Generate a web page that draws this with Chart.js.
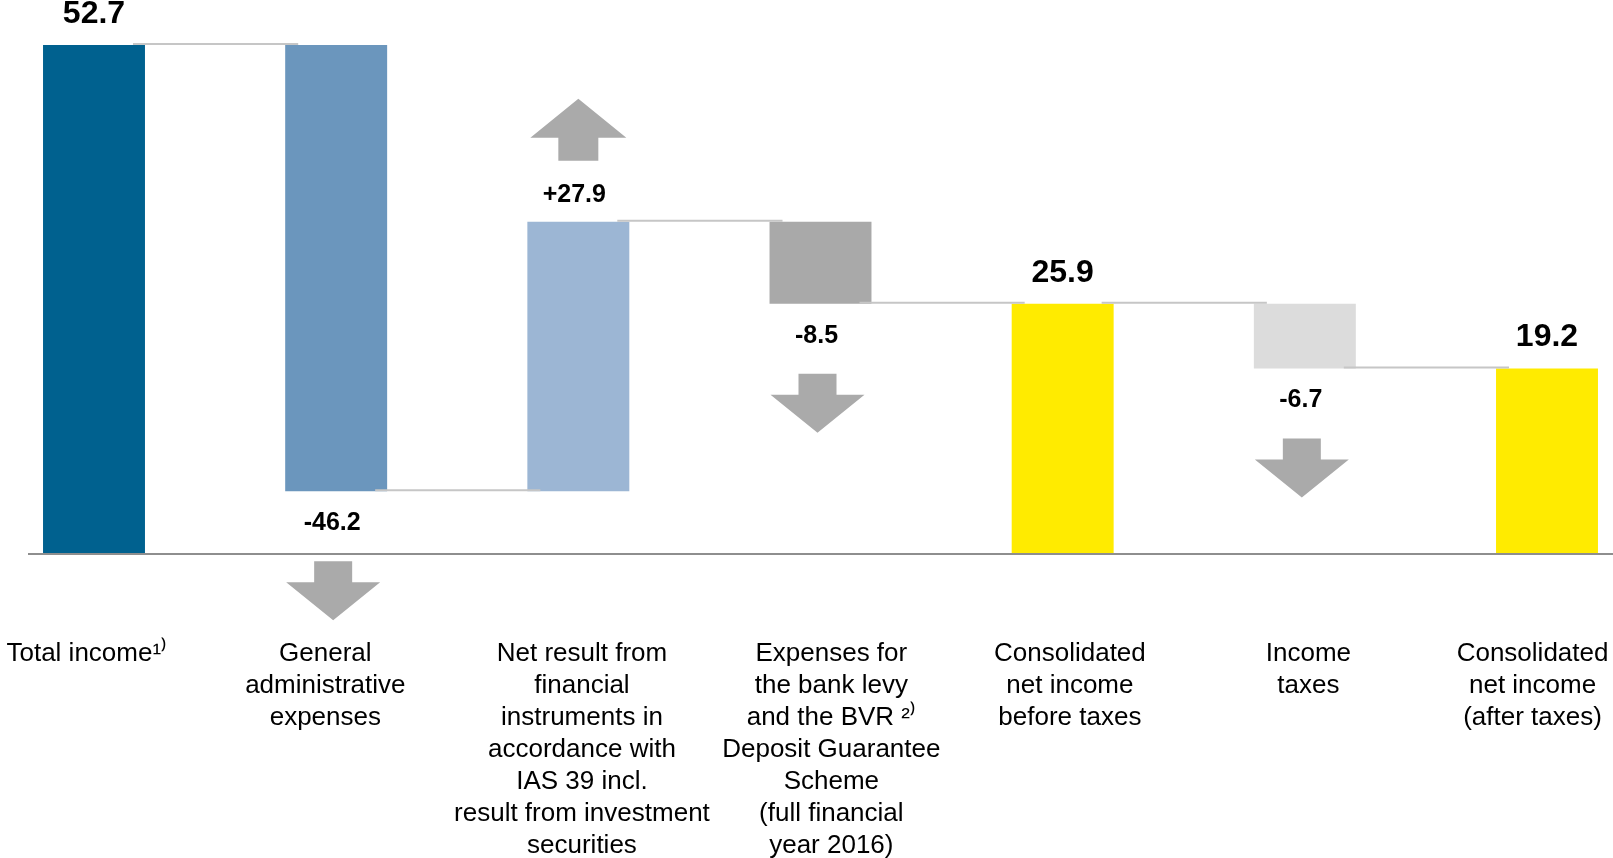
<!DOCTYPE html>
<html>
<head>
<meta charset="utf-8">
<script src="https://cdn.jsdelivr.net/npm/chart.js@4/dist/chart.umd.min.js"></script>
<style>
  html, body { margin: 0; padding: 0; background: #ffffff; }
  #wrap { width: 1613px; height: 858px; position: relative; }
</style>
</head>
<body>
<div id="wrap"><canvas id="c"></canvas></div>
<script>
// ---- data ----
const categories = [
  ["Total income\u00B9\u207E"],
  ["General", "administrative", "expenses"],
  ["Net result from", "financial", "instruments in", "accordance with", "IAS 39 incl.", "result from investment", "securities"],
  ["Expenses for", "the bank levy", "and the BVR \u00B2\u207E", "Deposit Guarantee", "Scheme", "(full financial", "year 2016)"],
  ["Consolidated", "net income", "before taxes"],
  ["Income", "taxes"],
  ["Consolidated", "net income", "(after taxes)"]
];
const values = [52.7, -46.2, 27.9, -8.5, 25.9, -6.7, 19.2];
const isTotal = [true, false, false, false, true, false, true];
const valueLabels = ["52.7", "-46.2", "+27.9", "-8.5", "25.9", "-6.7", "19.2"];

// ---- layout constants (not data) ----
const FONT = '"Liberation Sans", Arial, Helvetica, sans-serif';
const labelNudgePx = [-9, -10, 3, 11, 8, 2, -16]; // horizontal nudge of category labels
const SPACE_SHIFT = 3.61; // half of a space width at 26px

// floating ranges for the waterfall
const ranges = [];
const levels = [];
let running = 0;
values.forEach((v, i) => {
  if (isTotal[i]) { ranges.push([0, v]); running = v; }
  else { ranges.push([running, running + v]); running += v; }
  levels.push(running);
});

function nudgeLines(lines, px) {
  const n = Math.round(Math.abs(px) / SPACE_SHIFT);
  const pad = ' '.repeat(n);
  return lines.map(l => px >= 0 ? pad + l : l + pad);
}

const waterfallDecor = {
  id: 'waterfallDecor',
  afterDatasetsDraw(chart) {
    const ctx = chart.ctx;
    const ys = chart.scales.y;
    const meta = chart.getDatasetMeta(0);
    ctx.save();

    // baseline
    const y0 = ys.getPixelForValue(0);
    ctx.strokeStyle = '#8e8e8e';
    ctx.lineWidth = 2;
    ctx.beginPath();
    ctx.moveTo(28, y0);
    ctx.lineTo(chart.width, y0);
    ctx.stroke();

    // connector lines
    ctx.strokeStyle = '#c6c6c6';
    ctx.lineWidth = 2;
    for (let i = 0; i < values.length - 1; i++) {
      const b = meta.data[i], n = meta.data[i + 1];
      const y = ys.getPixelForValue(levels[i]) - 1;
      ctx.beginPath();
      ctx.moveTo(b.x + b.width / 2 - 12, y);
      ctx.lineTo(n.x - n.width / 2 + 13, y);
      ctx.stroke();
    }

    // value labels and arrows
    ctx.textAlign = 'center';
    ctx.textBaseline = 'middle';
    for (let i = 0; i < values.length; i++) {
      const el = meta.data[i];
      const top = Math.min(el.y, el.base);
      const bottom = Math.max(el.y, el.base);
      const cx = el.x;
      if (isTotal[i]) {
        ctx.fillStyle = '#000000';
        ctx.font = 'bold 32px ' + FONT;
        ctx.fillText(valueLabels[i], cx, top - 31);
      } else if (values[i] > 0) {
        ctx.fillStyle = '#000000';
        ctx.font = 'bold 25px ' + FONT;
        ctx.fillText(valueLabels[i], cx - 4, top - 27);
        // up arrow
        ctx.fillStyle = '#aaaaaa';
        const sb = top - 61, hb = top - 84, ap = top - 123;
        ctx.beginPath();
        ctx.moveTo(cx - 20, sb);
        ctx.lineTo(cx - 20, hb);
        ctx.lineTo(cx - 48, hb);
        ctx.lineTo(cx, ap);
        ctx.lineTo(cx + 48, hb);
        ctx.lineTo(cx + 20, hb);
        ctx.lineTo(cx + 20, sb);
        ctx.closePath();
        ctx.fill();
      } else {
        ctx.fillStyle = '#000000';
        ctx.font = 'bold 25px ' + FONT;
        ctx.fillText(valueLabels[i], cx - 4, bottom + 32);
        // down arrow
        ctx.fillStyle = '#aaaaaa';
        const ax = cx - 3;
        const st = bottom + 70, hb = bottom + 91, ap = bottom + 129;
        ctx.beginPath();
        ctx.moveTo(ax - 19, st);
        ctx.lineTo(ax - 19, hb);
        ctx.lineTo(ax - 47, hb);
        ctx.lineTo(ax, ap);
        ctx.lineTo(ax + 47, hb);
        ctx.lineTo(ax + 19, hb);
        ctx.lineTo(ax + 19, st);
        ctx.closePath();
        ctx.fill();
      }
    }
    ctx.restore();
  }
};

new Chart(document.getElementById('c'), {
  type: 'bar',
  data: {
    labels: categories,
    datasets: [{
      data: ranges,
      backgroundColor: ['#00618f', '#6b96bd', '#9cb6d4', '#a9a9a9', '#ffeb00', '#dcdcdc', '#ffeb00'],
      borderWidth: 0,
      borderSkipped: false,
      categoryPercentage: 1,
      barPercentage: 0.421,
      clip: false
    }]
  },
  options: {
    responsive: true,
    maintainAspectRatio: false,
    animation: false,
    layout: { padding: { left: 94, right: 66, top: 0, bottom: 0 } },
    plugins: { legend: { display: false }, tooltip: { enabled: false } },
    scales: {
      x: {
        type: 'category',
        offset: false,
        grid: { display: false, drawTicks: false },
        border: { display: false },
        ticks: {
          color: '#000000',
          font: { family: FONT, size: 26, lineHeight: '32px' },
          padding: 84,
          maxRotation: 0,
          minRotation: 0,
          autoSkip: false,
          callback: function (value, index) {
            return nudgeLines(categories[index], labelNudgePx[index]);
          }
        },
        afterFit(axis) { axis.height = 304; axis.paddingLeft = 0; axis.paddingRight = 0; }
      },
      y: { display: false, min: 0, max: 57.36 }
    }
  },
  plugins: [waterfallDecor]
});
</script>
</body>
</html>
